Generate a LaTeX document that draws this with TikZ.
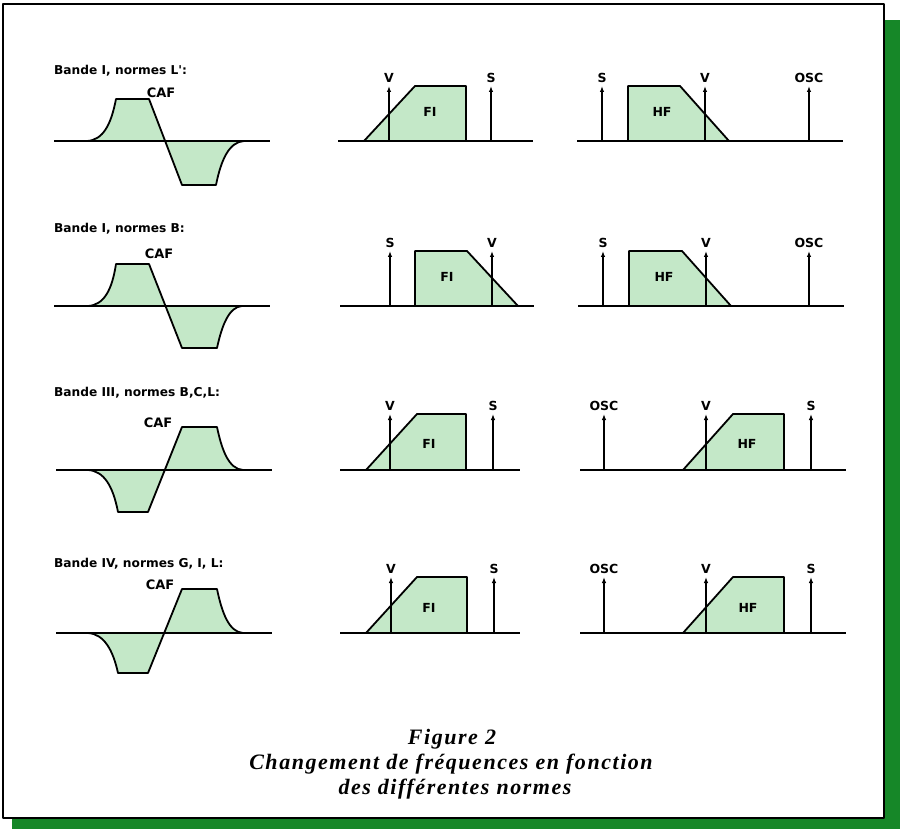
\documentclass[tikz,border=0pt]{standalone}
\usepackage{fontspec}
\setmainfont{Liberation Serif}
\newfontfamily\lblfont{DejaVu Sans}
\newfontfamily\capfont[LetterSpace=7]{Liberation Serif}
\usetikzlibrary{arrows.meta,positioning}
\definecolor{bandgreen}{RGB}{196,232,200}
\definecolor{shadowgreen}{RGB}{22,135,40}

\begin{document}
\begin{tikzpicture}[x=1pt, y=-1pt, line join=round, every node/.style={font=\lblfont\bfseries\fontsize{12.5}{14}\selectfont, inner sep=1pt}, band/.style={draw, line width=1.8pt, fill=bandgreen}, axisline/.style={line width=1.8pt}, sig/.style={line width=1.5pt, -{Latex[length=6pt,width=4.5pt]}}, rowtitle/.style={anchor=base west, font=\lblfont\bfseries\fontsize{12.2}{14}\selectfont}, cafname/.style={font=\lblfont\bfseries\fontsize{13}{15}\selectfont}, captext/.style={anchor=base, font=\capfont\bfseries\itshape\fontsize{22}{24}\selectfont}]
\useasboundingbox (0,0) rectangle (908,829);
% frame with green shadow
\fill[shadowgreen] (12,20) rectangle (900,829);
\filldraw[fill=white, line width=2.5pt] (3,4) rectangle (884,818);

% row 1
\node[rowtitle] (t1) at (53,75) {Bande I, normes L':};
\filldraw[band] (87,141) .. controls (103,140) and (111,125) .. (116,99) -- (149,99) -- (182,185) -- (216,185) .. controls (221,160) and (229,142) .. (244,141);
\draw[axisline] (54,141) -- (270,141);
\node[cafname] (caf1) at (161,93) {CAF};
\filldraw[band] (364,141) -- (415,86) -- (466,86) -- (466,141);
\draw[sig] (389,141) -- (389,86) node[above=2pt] (v1) {V};
\draw[sig] (491,141) -- (491,86) node[above=2pt] (s1) {S};
\node (fi1) at (430,112) {FI};
\draw[axisline] (338,141) -- (533,141);
\filldraw[band] (628,141) -- (628,86) -- (680,86) -- (729,141);
\draw[sig] (602,141) -- (602,86) node[above=2pt] (s1r) {S};
\draw[sig] (705,141) -- (705,86) node[above=2pt] (v1r) {V};
\draw[sig] (809,141) -- (809,86) node[above=2pt] (osc1) {OSC};
\node (hf1) at (662,112) {HF};
\draw[axisline] (577,141) -- (843,141);

% row 2
\node[rowtitle] (t2) at (53,233) {Bande I, normes B:};
\filldraw[band] (88,306) .. controls (104,305) and (112,290) .. (116,264) -- (149,264) -- (182,348) -- (217,348) .. controls (222,325) and (229,307) .. (242,306);
\draw[axisline] (54,306) -- (270,306);
\node[cafname] (caf2) at (159,254) {CAF};
\filldraw[band] (415,306) -- (415,251) -- (467,251) -- (518,306);
\draw[sig] (390,306) -- (390,251) node[above=2pt] (s2) {S};
\draw[sig] (492,306) -- (492,251) node[above=2pt] (v2) {V};
\node (fi2) at (447,277) {FI};
\draw[axisline] (340,306) -- (534,306);
\filldraw[band] (629,306) -- (629,251) -- (682,251) -- (731,306);
\draw[sig] (603,306) -- (603,251) node[above=2pt] (s2r) {S};
\draw[sig] (706,306) -- (706,251) node[above=2pt] (v2r) {V};
\draw[sig] (809,306) -- (809,251) node[above=2pt] (osc2) {OSC};
\node (hf2) at (664,277) {HF};
\draw[axisline] (578,306) -- (844,306);

% row 3
\node[rowtitle] (t3) at (53,396) {Bande III, normes B,C,L:};
\filldraw[band] (88,470) .. controls (104,471) and (113,486) .. (118,512) -- (148,512) -- (182,427) -- (217,427) .. controls (222,451) and (229,469) .. (243,470);
\draw[axisline] (56,470) -- (272,470);
\node[cafname] (caf3) at (158,423) {CAF};
\filldraw[band] (366,470) -- (417,414) -- (466,414) -- (466,470);
\draw[sig] (390,470) -- (390,414) node[above=2pt] (v3) {V};
\draw[sig] (493,470) -- (493,414) node[above=2pt] (s3) {S};
\node (fi3) at (429,444) {FI};
\draw[axisline] (340,470) -- (520,470);
\filldraw[band] (683,470) -- (733,414) -- (784,414) -- (784,470);
\draw[sig] (604,470) -- (604,414) node[above=2pt] (osc3) {OSC};
\draw[sig] (706,470) -- (706,414) node[above=2pt] (v3r) {V};
\draw[sig] (811,470) -- (811,414) node[above=2pt] (s3r) {S};
\node (hf3) at (747,444) {HF};
\draw[axisline] (580,470) -- (846,470);

% row 4
\node[rowtitle] (t4) at (53,567) {Bande IV, normes G, I, L:};
\filldraw[band] (88,633) .. controls (104,634) and (113,650) .. (118,673) -- (148,673) -- (182,589) -- (217,589) .. controls (222,613) and (229,632) .. (243,633);
\draw[axisline] (56,633) -- (272,633);
\node[cafname] (caf4) at (160,585) {CAF};
\filldraw[band] (366,633) -- (417,577) -- (467,577) -- (467,633);
\draw[sig] (391,633) -- (391,577) node[above=2pt] (v4) {V};
\draw[sig] (494,633) -- (494,577) node[above=2pt] (s4) {S};
\node (fi4) at (429,608) {FI};
\draw[axisline] (340,633) -- (520,633);
\filldraw[band] (683,633) -- (733,577) -- (784,577) -- (784,633);
\draw[sig] (604,633) -- (604,577) node[above=2pt] (osc4) {OSC};
\draw[sig] (706,633) -- (706,577) node[above=2pt] (v4r) {V};
\draw[sig] (811,633) -- (811,577) node[above=2pt] (s4r) {S};
\node (hf4) at (748,608) {HF};
\draw[axisline] (580,633) -- (846,633);

% caption
\node[captext] (fig) at (452,744) {Figure 2};
\node[captext] (cap1) at (451,769) {Changement de fréquences en fonction};
\node[captext] (cap2) at (455,794) {des différentes normes};
\end{tikzpicture}
\end{document}
